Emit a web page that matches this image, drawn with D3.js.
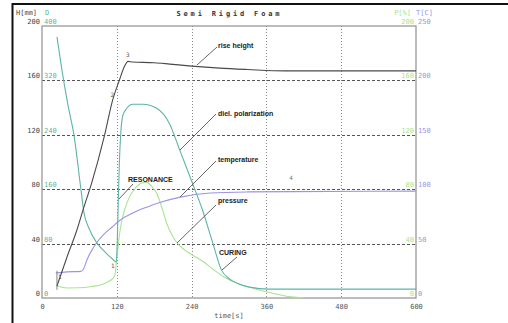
<!DOCTYPE html>
<html><head><meta charset="utf-8">
<script src="https://cdn.jsdelivr.net/npm/d3@7"></script>
<style>html,body{margin:0;padding:0;background:#fff;}svg{display:block;}</style>
</head><body><svg id="c" width="508" height="323"></svg>
<script>
// ---- data ----
const timeTicks = [0,120,240,360,480,600];
const hTicks = [0,40,80,120,160,200];
const dTicks = [0,80,160,240,320,400];
const pTicks = [0,40,80,120,160,200];
const tTicks = [0,50,100,150,200,250];

const riseTime = [24,40,56,66,80,100,113,124,132,138,145,180,205,240,285,330,390,600];
const riseH    = [8.8,30,50,65,85,119,145,160,170,174,173.5,173,172,170.5,169,168,167,167];

const polTime = [24,32,41.6,51.2,62.4,67.2,75.2,88,100.8,113.6,119.2,120.8,122,124,126.4,129.6,136,145.6,161.6,184,204.8,220.8,240,257.6,273.6,288,300.8,312,332.8,364.8,600];
const polD    = [384,335,284,240,160,126,103,81,68,57,53,85,129,196,243,268,279,285,285,279,256,218,172,129,82,41,28,22,16,13,13];

const tempTime = [22,40,62,66,72,80,88,100,112,125,145,168,190,220,270,330,400,600];
const tempT    = [23,24,24.5,26,35,44,51,59,65,71.5,78,83.5,88,92.5,96.5,97.5,97.8,98.2];

const presTime = [24,40,60,80,96,106,113,117,119,122,126,132,140,150,160,168,176,184,192,200,210,222,240,258,275,290,315,340,370,400,420];
const presP    = [8.8,7.4,7.5,8.5,10,12,14,17,25,38,52,64,74,81,84.5,85,82,77,67,55,45,38,32,27,21,16,10.5,7,3.5,0.8,0];

const curveLabels = ["rise height","diel. polarization","temperature","pressure","RESONANCE","CURING"];

// ---- drawing ----
const svg = d3.select("#c");
const X0=42, X1=416, Y0=26, Y1=298;
const x  = d3.scaleLinear().domain([0,600]).range([X0,X1]);
const yH = d3.scaleLinear().domain([0,200]).range([Y1,Y0]);
const yD = d3.scaleLinear().domain([0,400]).range([Y1,Y0]);
const yP = d3.scaleLinear().domain([0,200]).range([Y1,Y0]);
const yT = d3.scaleLinear().domain([0,250]).range([Y1,Y0]);

const mono = "'DejaVu Sans Mono', 'Liberation Mono', monospace";
const sans = "'Liberation Sans', Arial, sans-serif";
const cTeal="#5db5a6", cGreen="#a9e38f", cPurple="#9c94e2", cRise="#4a4a4a";

// outer frame
svg.append("line").attr("x1",12).attr("y1",4).attr("x2",508).attr("y2",4).attr("stroke","#111").attr("stroke-width",2);
svg.append("line").attr("x1",12.5).attr("y1",3).attr("x2",12.5).attr("y2",323).attr("stroke","#111").attr("stroke-width",2);

// gridlines
svg.append("g").selectAll("line").data(hTicks.filter(v=>v>0&&v<200)).join("line")
  .attr("x1",X0).attr("x2",X1).attr("y1",d=>Math.round(yH(d))+0.5).attr("y2",d=>Math.round(yH(d))+0.5)
  .attr("stroke","#555").attr("stroke-dasharray","3,2").attr("stroke-width",1);
svg.append("g").selectAll("line").data(timeTicks.filter(v=>v>0&&v<600)).join("line")
  .attr("x1",d=>Math.round(x(d))+0.5).attr("x2",d=>Math.round(x(d))+0.5).attr("y1",Y0).attr("y2",Y1)
  .attr("stroke","#888").attr("stroke-dasharray","1,2").attr("stroke-width",1);

// plot box
svg.append("rect").attr("x",X0).attr("y",Y0).attr("width",X1-X0).attr("height",Y1-Y0)
  .attr("fill","none").attr("stroke","#999").attr("stroke-width",1.3);

// x axis labels via d3 axis
const xa = svg.append("g").attr("transform",`translate(0,${Y1})`)
  .call(d3.axisBottom(x).tickValues(timeTicks).tickSize(0).tickPadding(6).tickFormat(d3.format("d")));
xa.select(".domain").remove();
xa.selectAll("text").attr("font-family",mono).attr("font-size",7).attr("fill","#555");
svg.append("text").attr("x",229).attr("y",318).attr("text-anchor","middle")
  .attr("font-family",mono).attr("font-size",7).attr("fill","#555").text("time[s]");

// left labels
const lg = svg.append("g").attr("font-family",mono).attr("font-size",7);
hTicks.forEach((v,i)=>{
  lg.append("text").attr("x",40).attr("y",yH(v)-2).attr("text-anchor","end").attr("fill","#444").text(v);
  lg.append("text").attr("x",44).attr("y",yD(dTicks[i])-2).attr("fill",cTeal).text(dTicks[i]);
});
lg.append("text").attr("x",16).attr("y",15).attr("fill","#444").text("H[mm]");
lg.append("text").attr("x",45).attr("y",15).attr("fill",cTeal).text("D");

// right labels
const rg = svg.append("g").attr("font-family",mono).attr("font-size",7);
pTicks.forEach((v,i)=>{
  rg.append("text").attr("x",414).attr("y",yP(v)-2).attr("text-anchor","end").attr("fill",cGreen).text(v);
  rg.append("text").attr("x",418).attr("y",yT(tTicks[i])-2).attr("fill",cPurple).text(tTicks[i]);
});
rg.append("text").attr("x",411).attr("y",15).attr("text-anchor","end").attr("fill",cGreen).text("P[%]");
rg.append("text").attr("x",416).attr("y",15).attr("fill",cPurple).text("T[C]");

// title
svg.append("text").attr("x",228).attr("y",16).attr("text-anchor","middle")
  .attr("font-family",mono).attr("font-weight","bold").attr("font-size",7).attr("fill","#333")
  .attr("textLength",103).attr("lengthAdjust","spacing").text("Semi Rigid Foam");

// curves
function drawLine(ts, vs, ys, color){
  const pts = ts.map((t,i)=>[t,vs[i]]);
  svg.append("path").datum(pts)
    .attr("d", d3.line().x(d=>x(d[0])).y(d=>ys(d[1])).curve(d3.curveMonotoneX))
    .attr("fill","none").attr("stroke",color).attr("stroke-width",1.1);
}
drawLine(presTime, presP, yP, cGreen);
drawLine(tempTime, tempT, yT, cPurple);
drawLine(polTime, polD, yD, cTeal);
drawLine(riseTime, riseH, yH, cRise);

// markers
const mk = svg.append("g").attr("font-family",mono).attr("font-size",6).attr("fill","#555");
mk.append("text").attr("x",x(24)+1).attr("y",yH(14)).text("1");
mk.append("line").attr("x1",x(24)).attr("x2",x(24)).attr("y1",yH(20)).attr("y2",yH(6)).attr("stroke","#666").attr("stroke-width",0.8);
mk.append("text").attr("x",x(113)-2).attr("y",yH(148)).text("2");
mk.append("text").attr("x",x(138)-2).attr("y",yH(177)).text("3");
mk.append("text").attr("x",x(400)-2).attr("y",yT(108)).attr("fill","#777").text("4");
mk.append("text").attr("x",x(114)-2).attr("y",yH(22)).text("1");

// annotation labels with leaders
const ann = [
  {t:"rise height", lx:218, ly:48, x1:197, y1:65, x2:217, y2:47},
  {t:"diel. polarization", lx:218, ly:116, x1:180, y1:150, x2:216, y2:114},
  {t:"temperature", lx:218, ly:162, x1:180, y1:197, x2:216, y2:161},
  {t:"pressure", lx:218, ly:203, x1:177, y1:243, x2:216, y2:205},
  {t:"RESONANCE", lx:128, ly:182, x1:119, y1:199, x2:133, y2:184},
  {t:"CURING", lx:219, ly:255, x1:222, y1:270, x2:237, y2:257}
];
const ag = svg.append("g");
ann.forEach((a,i)=>{
  ag.append("line").attr("x1",a.x1).attr("y1",a.y1).attr("x2",a.x2).attr("y2",a.y2)
    .attr("stroke","#555").attr("stroke-width",0.9);
  ag.append("text").attr("x",a.lx).attr("y",a.ly).attr("font-family",sans).attr("font-weight","bold")
    .attr("font-size",7).attr("fill","#222").text(curveLabels[i]);
});
</script></body></html>
